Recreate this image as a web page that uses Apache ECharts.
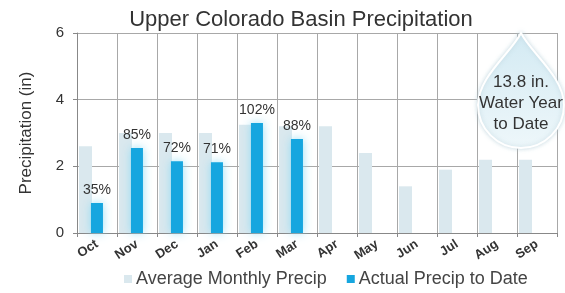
<!DOCTYPE html>
<html>
<head>
<meta charset="utf-8">
<script src="https://cdn.jsdelivr.net/npm/echarts@6/dist/echarts.min.js"></script>
<style>
  html, body { margin: 0; padding: 0; background: #fff; }
  #chart { width: 565px; height: 293px; }
</style>
</head>
<body>
<div id="chart"></div>
<script>
const months = ['Oct', 'Nov', 'Dec', 'Jan', 'Feb', 'Mar', 'Apr', 'May', 'Jun', 'Jul', 'Aug', 'Sep']
const avgPrecip = [2.6, 3.0, 3.0, 3.0, 3.25, 3.2, 3.2, 2.4, 1.4, 1.9, 2.2, 2.2]
const actualPrecip = [0.9, 2.55, 2.15, 2.12, 3.3, 2.82]
const pctOfAvg = ['35%', '85%', '72%', '71%', '102%', '88%']
const yearToDate = '13.8 in.'

// teardrop outline used for the year-to-date callout
echarts.graphic.registerShape('drop', echarts.graphic.extendPath(
  'M0,-72 C10,-52 43,-28 43,0 A43,43 0 1 1 -43,0 C-43,-28 -10,-52 0,-72 Z', {}
))

const chart = echarts.init(document.getElementById('chart'))

const font = 'Liberation Sans, Arial, sans-serif'

chart.setOption({
  animation: false,
  textStyle: { fontFamily: font },
  title: {
    text: 'Upper Colorado Basin Precipitation',
    left: 296,
    textAlign: 'center',
    top: 4,
    textStyle: { fontSize: 22, fontWeight: 'normal', color: '#333' }
  },
  legend: {
    bottom: 0,
    left: 119,
    icon: 'rect',
    itemWidth: 8,
    itemHeight: 8,
    itemGap: 20,
    data: ['Average Monthly Precip', 'Actual Precip to Date'],
    textStyle: { fontSize: 18, color: '#444', padding: [0, 0, 0, -1] }
  },
  grid: { left: 77, right: 8, top: 33, bottom: 60 },
  xAxis: {
    type: 'category',
    data: months,
    axisLine: { lineStyle: { color: '#888' } },
    axisTick: { show: true, length: 4, lineStyle: { color: '#888' } },
    splitLine: { show: true, lineStyle: { color: '#a8a8a8' } },
    axisLabel: { rotate: 33, fontSize: 13, fontWeight: 'bold', color: '#333', margin: 10 }
  },
  yAxis: {
    type: 'value',
    min: 0,
    max: 6,
    interval: 2,
    name: 'Precipitation (in)',
    nameLocation: 'middle',
    nameGap: 42,
    nameTextStyle: { fontSize: 17, color: '#333' },
    axisLine: { show: true, lineStyle: { color: '#888' } },
    axisTick: { show: true, length: 4, lineStyle: { color: '#888' } },
    splitLine: { lineStyle: { color: '#a8a8a8' } },
    axisLabel: { fontSize: 15, color: '#333', margin: 13 }
  },
  series: [
    {
      name: 'Average Monthly Precip',
      type: 'bar',
      data: avgPrecip,
      barWidth: 13,
      barGap: '-8%',
      itemStyle: { color: '#dae8ee' }
    },
    {
      name: 'Actual Precip to Date',
      type: 'bar',
      data: actualPrecip,
      barWidth: 12,
      barGap: '-8%',
      itemStyle: {
        color: '#16a6df',
        shadowColor: 'rgba(140,220,245,0.9)',
        shadowBlur: 10
      },
      label: {
        show: true,
        position: 'top',
        distance: 6,
        fontSize: 14,
        color: '#333',
        formatter: p => pctOfAvg[p.dataIndex]
      }
    },
    {
      // empty spacer so the actual bars sit centred in each month
      name: 'spacer',
      type: 'bar',
      data: [],
      barWidth: 13,
      barGap: '-8%'
    }
  ],
  graphic: [
    {
      type: 'drop',
      x: 521,
      y: 105,
      style: {
        fill: new echarts.graphic.LinearGradient(0, 0, 0, 1, [
          { offset: 0, color: '#d3eaf3' },
          { offset: 1, color: '#eef7fa' }
        ]),
        stroke: '#fff',
        lineWidth: 2,
        shadowColor: 'rgba(180,205,215,0.7)',
        shadowBlur: 4
      },
      z: 100
    },
    {
      type: 'text',
      x: 521,
      y: 103,
      style: {
        text: yearToDate + '\nWater Year\nto Date',
        align: 'center',
        verticalAlign: 'middle',
        fontSize: 17,
        fontFamily: font,
        lineHeight: 21,
        fill: '#333'
      },
      z: 101
    }
  ]
})
</script>
</body>
</html>
